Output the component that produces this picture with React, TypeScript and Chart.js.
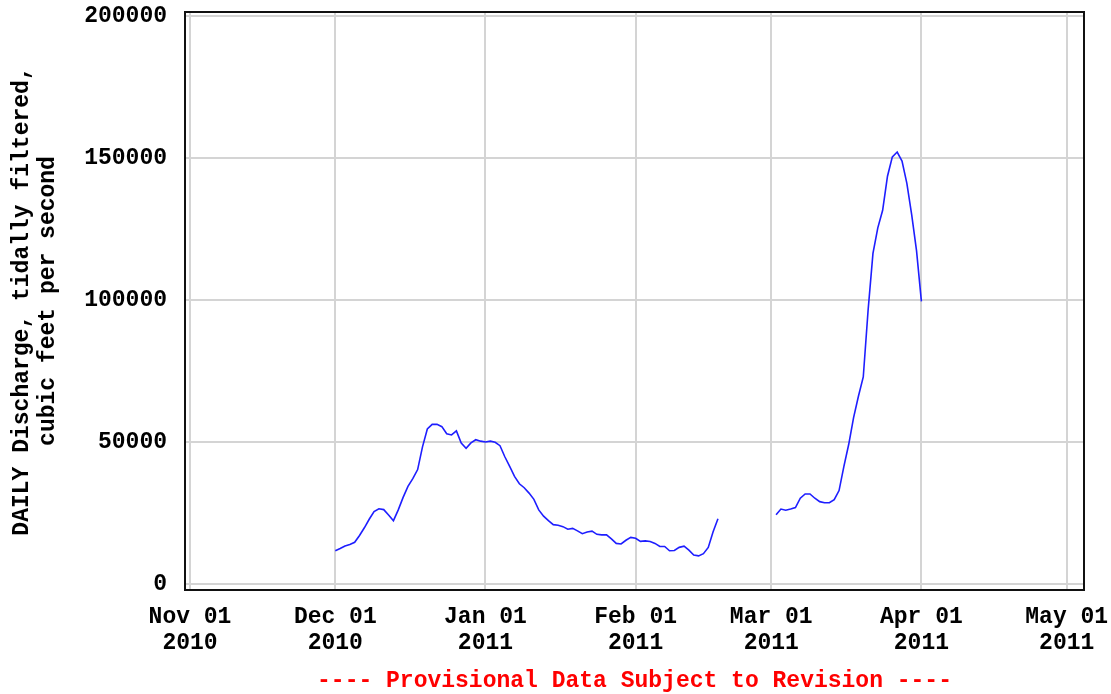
import React, { useEffect, useRef } from 'react';
import { Chart, registerables } from 'chart.js';

Chart.register(...registerables);

// Day offsets counted from Nov 01 2010
const X_TICK_DAYS = [0, 30, 61, 92, 120, 151, 181];
const X_TICK_LABELS = [
  ['Nov 01', '2010'],
  ['Dec 01', '2010'],
  ['Jan 01', '2011'],
  ['Feb 01', '2011'],
  ['Mar 01', '2011'],
  ['Apr 01', '2011'],
  ['May 01', '2011'],
];
const Y_TICKS = [0, 50000, 100000, 150000, 200000];

const DEC_START = 30;
const JAN_START = 61;
const FEB_START = 92;
const MAR_START = 120;
const APR_START = 151;

// Daily discharge, cubic feet per second (null = no data)
const decValues = [
  11700, 12500, 13400, 13900, 14700, 17100, 19800, 22800, 25500, 26500, 26200,
  24300, 22300, 26100, 30500, 34400, 37100, 40300, 48300, 54600, 56200, 56200,
  55400, 52900, 52500, 53900, 49600, 47800, 49700, 50800, 50300,
];
const janValues = [
  50000, 50300, 49900, 48700, 44800, 41400, 37900, 35300, 33900, 32000, 29800,
  26100, 23900, 22300, 20900, 20700, 20200, 19300, 19600, 18700, 17700, 18300,
  18600, 17500, 17300, 17300, 15900, 14300, 14100, 15400, 16400,
];
const febValues = [
  16100, 15000, 15200, 15000, 14300, 13200, 13200, 11700, 11800, 12900, 13300,
  11900, 10200, 9900, 10700, 12900, 18400, 23000, null, null, null, null, null,
  null, null, null, null, null,
];
const marValues = [
  null, 24400, 26400, 26000, 26400, 26900, 30200, 31700, 31700, 30200, 29000,
  28600, 28600, 29700, 32900, 41400, 49200, 58600, 66100, 72900, 96500, 116400,
  125400, 131600, 143600, 150400, 152100, 148900, 141100, 130000, 117300,
];
const aprValues = [99500];

const FONT_FAMILY = "'Liberation Mono', 'DejaVu Sans Mono', monospace";

function buildPoints() {
  const pts: { x: number; y: number | null }[] = [];
  const add = (start: number, arr: (number | null)[]) => {
    arr.forEach((v, i) => pts.push({ x: start + i, y: v }));
  };
  add(DEC_START, decValues);
  add(JAN_START, janValues);
  add(FEB_START, febValues);
  add(MAR_START, marValues);
  add(APR_START, aprValues);
  return pts;
}

const framePlugin = {
  id: 'frame',
  afterDraw(chart: any) {
    const { ctx, chartArea } = chart;
    ctx.save();
    ctx.strokeStyle = '#111';
    ctx.lineWidth = 2;
    ctx.strokeRect(
      chartArea.left,
      chartArea.top,
      chartArea.right - chartArea.left,
      chartArea.bottom - chartArea.top
    );
    ctx.restore();
  },
};

export default function App() {
  const ref = useRef<HTMLCanvasElement | null>(null);

  useEffect(() => {
    if (!ref.current) return;
    const chart = new Chart(ref.current, {
      type: 'line',
      data: {
        datasets: [
          {
            data: buildPoints() as any,
            borderColor: 'rgb(30,30,255)',
            borderWidth: 1.6,
            pointRadius: 0,
            spanGaps: false,
            tension: 0,
            fill: false,
          },
        ],
      },
      plugins: [framePlugin],
      options: {
        animation: false,
        responsive: false,
        maintainAspectRatio: false,
        layout: { padding: { left: 0, right: 27, top: 12, bottom: 0 } },
        plugins: {
          legend: { display: false },
          tooltip: { enabled: false },
        },
        scales: {
          x: {
            type: 'linear',
            min: -1.03,
            max: 184.57,
            afterBuildTicks: (scale: any) => {
              scale.ticks = X_TICK_DAYS.map((v) => ({ value: v }));
            },
            afterFit: (scale: any) => {
              scale.height = 104;
              scale.paddingLeft = 0;
              scale.paddingRight = 0;
              scale.paddingTop = 0;
              scale.paddingBottom = 0;
            },
            ticks: {
              autoSkip: false,
              maxRotation: 0,
              minRotation: 0,
              padding: 14,
              color: '#000',
              font: { family: FONT_FAMILY, size: 23, weight: 'bold', lineHeight: 1.15 },
              callback: (value: any) => {
                const idx = X_TICK_DAYS.indexOf(Number(value));
                return idx >= 0 ? X_TICK_LABELS[idx] : '';
              },
            },
            grid: { color: '#d4d4d4', lineWidth: 2, drawTicks: false },
            border: { display: false },
            title: {
              display: true,
              text: '---- Provisional Data Subject to Revision ----',
              color: '#ff0000',
              font: { family: FONT_FAMILY, size: 23, weight: 'bold', lineHeight: 1.15 },
              padding: { top: 11, bottom: 0 },
            },
          },
          y: {
            type: 'linear',
            min: -2110,
            max: 201410,
            afterBuildTicks: (scale: any) => {
              scale.ticks = Y_TICKS.map((v) => ({ value: v }));
            },
            afterFit: (scale: any) => {
              scale.width = 185;
              scale.paddingLeft = 0;
              scale.paddingRight = 0;
              scale.paddingTop = 0;
              scale.paddingBottom = 0;
            },
            ticks: {
              padding: 18,
              color: '#000',
              font: { family: FONT_FAMILY, size: 23, weight: 'bold', lineHeight: 1.0 },
              callback: (value: any) => String(value),
            },
            grid: { color: '#d4d4d4', lineWidth: 2, drawTicks: false },
            border: { display: false },
            title: {
              display: true,
              text: ['DAILY Discharge, tidally filtered,', 'cubic feet per second'],
              color: '#000',
              font: { family: FONT_FAMILY, size: 23, weight: 'bold', lineHeight: 1.15 },
              padding: { top: 9, bottom: 26 },
            },
          },
        },
      } as any,
    });
    return () => chart.destroy();
  }, []);

  return (
    <div style={{ position: 'absolute', left: 0, top: 0, width: 1111, height: 694, background: '#fff' }}>
      <canvas ref={ref} width={1111} height={694} style={{ width: 1111, height: 694 }} />
    </div>
  );
}
